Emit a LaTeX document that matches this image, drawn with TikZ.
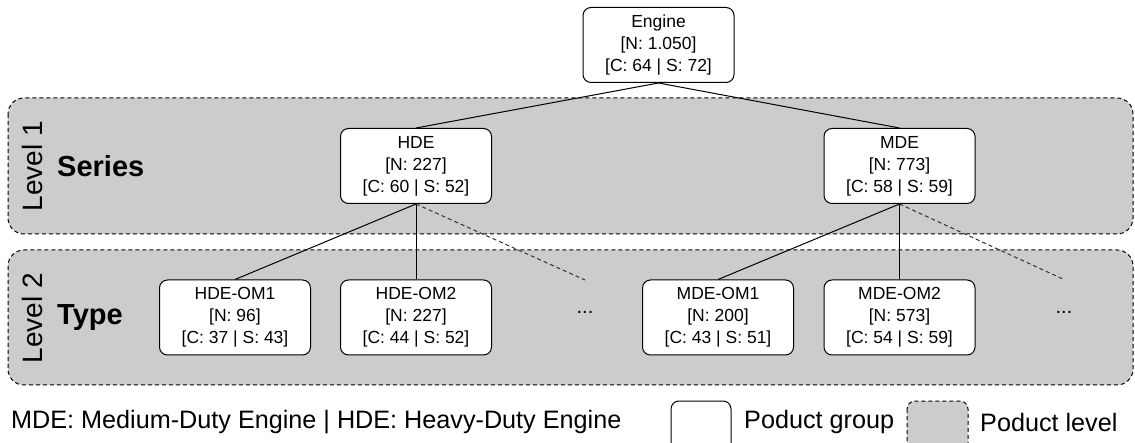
\documentclass[tikz,border=0pt]{standalone}
\usepackage{fontspec}
\setmainfont{Liberation Sans}
\definecolor{bandgray}{HTML}{CCCCCC}
\begin{document}
\begin{tikzpicture}[x=1pt,y=-1pt,
  grp/.style={draw=black, fill=white, rounded corners=8pt, line width=1pt,
    minimum width=151pt, minimum height=75pt, align=center, inner sep=0pt,
    font=\fontsize{17.5}{22}\selectfont},
  band/.style={draw=black, fill=bandgray, dashed, dash pattern=on 4pt off 3pt,
    rounded corners=16pt, line width=1pt},
  lvl/.style={rotate=90, font=\fontsize{28}{32}\selectfont, inner sep=0pt},
  bandname/.style={font=\bfseries\fontsize{29}{32}\selectfont, anchor=west, inner sep=0pt},
  link/.style={line width=1pt, draw=black},
  dlink/.style={line width=1pt, draw=black!80, dash pattern=on 4pt off 3pt},
  dots/.style={font=\fontsize{20}{22}\selectfont, inner sep=0pt},
  legtext/.style={font=\fontsize{25.2}{28}\selectfont, anchor=west, inner sep=0pt}
]
\useasboundingbox (0,0) rectangle (1135,443);
% bands
\path[band] (8,98) rectangle (1133,234);
\path[band] (8,250) rectangle (1133,385);
\node[lvl] (l1) at (32,166) {Level 1};
\node[lvl] (l2) at (32,318) {Level 2};
\node[bandname] (series) at (57,166) {Series};
\node[bandname] (type) at (57,318) {Type};
% nodes
\node[grp] (eng) at (658.5,45) {Engine\\{}[N: 1.050]\\{}[C: 64 | S: 72]};
\node[grp] (hde) at (416,166) {HDE\\{}[N: 227]\\{}[C: 60 | S: 52]};
\node[grp] (mde) at (899.5,166) {MDE\\{}[N: 773]\\{}[C: 58 | S: 59]};
\node[grp] (hom1) at (235,317.5) {HDE-OM1\\{}[N: 96]\\{}[C: 37 | S: 43]};
\node[grp] (hom2) at (416,317.5) {HDE-OM2\\{}[N: 227]\\{}[C: 44 | S: 52]};
\node[grp] (mom1) at (718,317.5) {MDE-OM1\\{}[N: 200]\\{}[C: 43 | S: 51]};
\node[grp] (mom2) at (899.5,317.5) {MDE-OM2\\{}[N: 573]\\{}[C: 54 | S: 59]};
\node[dots] (hdots) at (585,312) {...};
\node[dots] (mdots) at (1064,312) {...};
\coordinate (hdend) at (585,280);
\coordinate (mdend) at (1065,280);
% links
\draw[link] (eng.south) -- (hde.north);
\draw[link] (eng.south) -- (mde.north);
\draw[link] (hde.south) -- (hom1.north);
\draw[link] (hde.south) -- (hom2.north);
\draw[dlink] (hde.south) -- (hdend);
\draw[link] (mde.south) -- (mom1.north);
\draw[link] (mde.south) -- (mom2.north);
\draw[dlink] (mde.south) -- (mdend);
% legend
\node[legtext] (legabbr) at (11,422) {MDE: Medium-Duty Engine | HDE: Heavy-Duty Engine};
\path[draw=black, fill=white, rounded corners=8pt, line width=1pt] (671,401) rectangle (731,460);
\node[legtext] (leggrp) at (744,422) {Poduct group};
\path[band, rounded corners=8pt] (907,401) rectangle (968,460);
\node[legtext] (leglvl) at (980,422) {Poduct level};
\end{tikzpicture}
\end{document}
